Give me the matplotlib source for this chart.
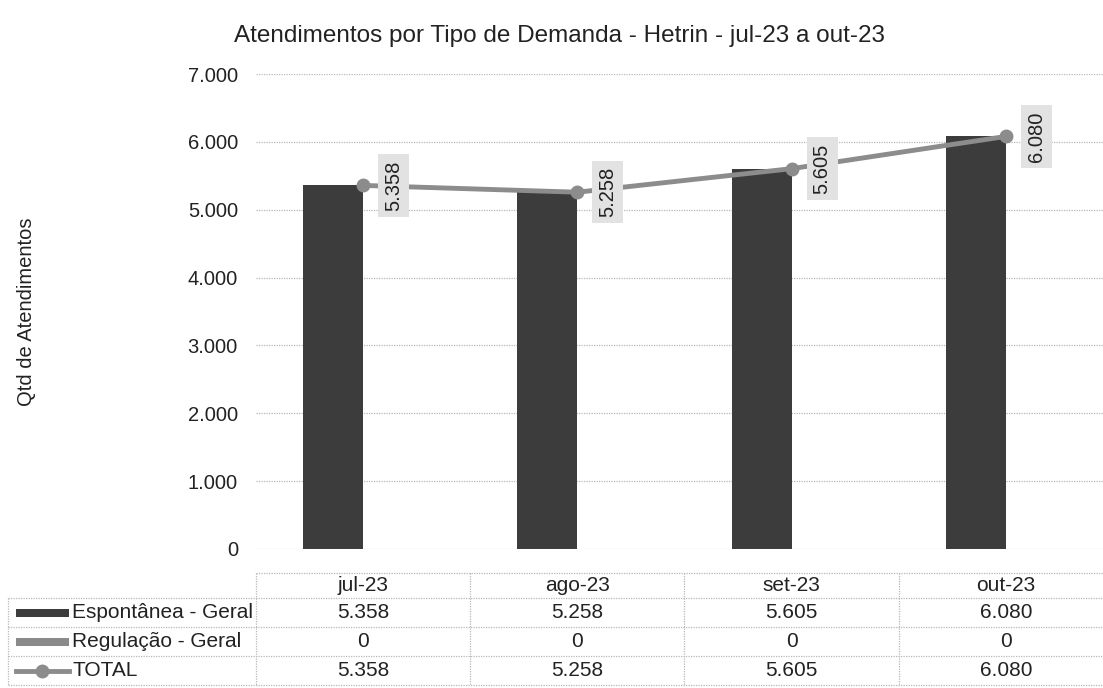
import matplotlib
matplotlib.use("Agg")
import matplotlib.pyplot as plt
from matplotlib.ticker import FuncFormatter
from matplotlib.patches import Rectangle
from matplotlib.lines import Line2D

plt.rcParams['font.family'] = ['Liberation Sans', 'DejaVu Sans']

# ---- data ----
categories = ["jul-23", "ago-23", "set-23", "out-23"]
espontanea = [5358, 5258, 5605, 6080]
regulacao = [0, 0, 0, 0]
total = [5358, 5258, 5605, 6080]
series_names = ["Espontânea - Geral", "Regulação - Geral", "TOTAL"]
title = "Atendimentos por Tipo de Demanda - Hetrin - jul-23 a out-23"
ylabel = "Qtd de Atendimentos"
yticks = [0, 1000, 2000, 3000, 4000, 5000, 6000, 7000]

def fmt(v):
    return f"{int(v):,}".replace(",", ".")

# ---- colours ----
c_bar1 = "#3c3c3c"
c_bar2 = "#8a8a8a"
c_line = "#8c8c8c"
c_box = "#e2e2e2"
c_grid = "#b8b8b8"
c_text = "#222222"

W, H = 1103, 688
fig = plt.figure(figsize=(W / 100, H / 100), dpi=100)

# plot area in pixels
x0, x1 = 256, 1113
y_top, y_bot = 74, 549
ax = fig.add_axes([x0 / W, (H - y_bot) / H, (x1 - x0) / W, (y_bot - y_top) / H])

n = len(categories)
xs = list(range(n))
bw = 0.28
ax.bar([x - bw / 2 for x in xs], espontanea, width=bw, color=c_bar1, zorder=3)
ax.bar([x + bw / 2 for x in xs], regulacao, width=bw, color=c_bar2, zorder=3)
ax.plot(xs, total, color=c_line, lw=3.5, marker="o", ms=9, zorder=4)

for x, v in zip(xs, total):
    ax.annotate(fmt(v), (x, v), xytext=(22, 0), textcoords="offset points",
                rotation=90, ha="center", va="center", fontsize=14.5, color=c_text,
                bbox=dict(boxstyle="square,pad=0.3", fc=c_box, ec="none"), zorder=5)

ax.set_xlim(-0.5, n - 0.5)
ax.set_ylim(0, 7000)
ax.set_yticks(yticks)
ax.yaxis.set_major_formatter(FuncFormatter(lambda v, p: fmt(v)))
ax.tick_params(axis="y", length=0, pad=13, labelsize=14.5, labelcolor=c_text)
ax.set_xticks([])
ax.grid(axis="y", color=c_grid, ls=(0, (1, 1)), lw=0.9, zorder=0)
for s in ax.spines.values():
    s.set_visible(False)

fig.text(559 / W, 1 - 36 / H, title, ha="center", va="center", fontsize=17.5, color=c_text)
fig.text(27 / W, 1 - 312 / H, ylabel, ha="center", va="center", rotation=90,
         fontsize=14.5, color=c_text)

# ---- data table ----
t_top, t_bot = 573, 688
tax = fig.add_axes([x0 / W, (H - t_bot) / H, (x1 - x0) / W, (t_bot - t_top) / H])
tax.set_xlim(-0.5, n - 0.5)
tax.set_ylim(t_bot - t_top, 0)
tax.axis("off")

colw = (x1 - x0) / n
def px2x(px):
    return -0.5 - (x0 - px) / colw

header_h = 25
row_h = 29
row_edges = [0, header_h] + [header_h + row_h * (k + 1) for k in range(3)]
lx = px2x(8)
lkw = dict(color=c_grid, lw=0.9, ls=(0, (1, 1)), clip_on=False)
# horizontal lines
tax.plot([-0.5, n - 0.5], [0, 0], **lkw)
for e in row_edges[1:]:
    tax.plot([lx, n - 0.5], [e, e], **lkw)
# vertical lines
for k in range(n + 1):
    tax.plot([k - 0.5, k - 0.5], [0, row_edges[-1]], **lkw)
tax.plot([lx, lx], [header_h, row_edges[-1]], **lkw)

# header
for x, c in zip(xs, categories):
    tax.text(x, header_h / 2, c, ha="center", va="center", fontsize=15, color=c_text)

rows = [espontanea, regulacao, total]
for r, (name, vals) in enumerate(zip(series_names, rows)):
    yc = (row_edges[r + 1] + row_edges[r + 2]) / 2
    for x, v in zip(xs, vals):
        tax.text(x, yc, fmt(v), ha="center", va="center", fontsize=15, color=c_text)
    tax.text(px2x(72), yc, name, ha="left", va="center", fontsize=15, color=c_text,
             clip_on=False)
    if r < 2:
        col = c_bar1 if r == 0 else c_bar2
        tax.add_patch(Rectangle((px2x(16), yc - 4), px2x(69) - px2x(16), 8,
                                fc=col, ec="none", clip_on=False))
    else:
        tax.add_line(Line2D([px2x(16), px2x(69)], [yc, yc], color=c_line, lw=3.5,
                            clip_on=False))
        tax.add_line(Line2D([px2x(42)], [yc], color=c_line, marker="o", ms=9,
                            clip_on=False))

fig.savefig("out.png", dpi=100)
